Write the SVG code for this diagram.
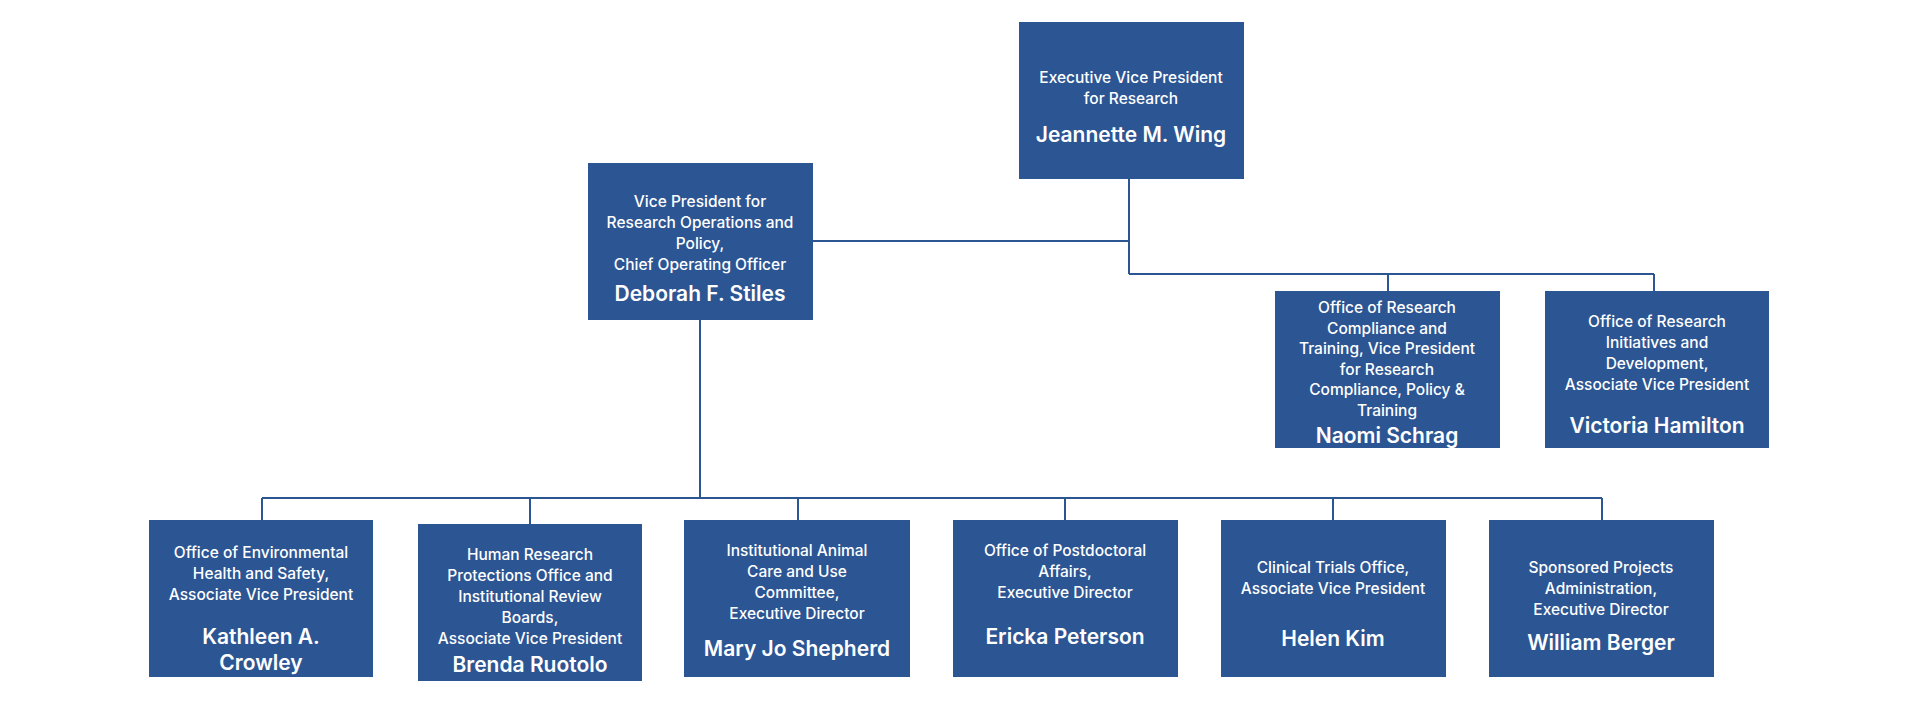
<svg xmlns="http://www.w3.org/2000/svg" width="1920" height="701" viewBox="0 0 1920 701">
<style>
.b{fill:#2c5593}
.c{stroke:#2c5593;stroke-width:2;fill:none}
text{fill:#fff;font-family:Inter,"Open Sans","Liberation Sans",sans-serif;text-anchor:middle}
.t{font-size:15.5px;font-weight:500}
.n{font-size:21px;font-weight:600}
</style>
<rect width="1920" height="701" fill="#fff"/>
<g id="connectors" class="c">
<path d="M1129 179V274M813 241H1129M1129 274H1654M1388 274V291M1654 274V291"/>
<path d="M700 320V498M262 498H1602M262 498V520M530 498V524M798 498V520M1065 498V520M1333 498V520M1602 498V520"/>
</g>
<g id="evp"><rect class="b" x="1019" y="22" width="225" height="157"/>
<text class="t" x="1131" y="83">Executive Vice President</text><text class="t" x="1131" y="104">for Research</text><text class="n" x="1131" y="142">Jeannette M. Wing</text></g>
<g id="vp"><rect class="b" x="588" y="163" width="225" height="157"/>
<text class="t" x="700" y="207">Vice President for</text><text class="t" x="700" y="228">Research Operations and</text><text class="t" x="700" y="249">Policy,</text><text class="t" x="700" y="270">Chief Operating Officer</text><text class="n" x="700" y="301">Deborah F. Stiles</text></g>
<g id="orct"><rect class="b" x="1275" y="291" width="225" height="157"/>
<text class="t" x="1387" y="313">Office of Research</text><text class="t" x="1387" y="333.5">Compliance and</text><text class="t" x="1387" y="354">Training, Vice President</text><text class="t" x="1387" y="374.5">for Research</text><text class="t" x="1387" y="395">Compliance, Policy &amp;</text><text class="t" x="1387" y="415.5">Training</text><text class="n" x="1387" y="443">Naomi Schrag</text></g>
<g id="orid"><rect class="b" x="1545" y="291" width="224" height="157"/>
<text class="t" x="1657" y="327">Office of Research</text><text class="t" x="1657" y="348">Initiatives and</text><text class="t" x="1657" y="369">Development,</text><text class="t" x="1657" y="390">Associate Vice President</text><text class="n" x="1657" y="433">Victoria Hamilton</text></g>
<g id="ehs"><rect class="b" x="149" y="520" width="224" height="157"/>
<text class="t" x="261" y="558">Office of Environmental</text><text class="t" x="261" y="579">Health and Safety,</text><text class="t" x="261" y="600">Associate Vice President</text><text class="n" x="261" y="644">Kathleen A.</text><text class="n" x="261" y="670">Crowley</text></g>
<g id="hrpo"><rect class="b" x="418" y="524" width="224" height="157"/>
<text class="t" x="530" y="560">Human Research</text><text class="t" x="530" y="581">Protections Office and</text><text class="t" x="530" y="602">Institutional Review</text><text class="t" x="530" y="623">Boards,</text><text class="t" x="530" y="644">Associate Vice President</text><text class="n" x="530" y="672">Brenda Ruotolo</text></g>
<g id="iacuc"><rect class="b" x="684" y="520" width="226" height="157"/>
<text class="t" x="797" y="556">Institutional Animal</text><text class="t" x="797" y="577">Care and Use</text><text class="t" x="797" y="598">Committee,</text><text class="t" x="797" y="619">Executive Director</text><text class="n" x="797" y="656">Mary Jo Shepherd</text></g>
<g id="opa"><rect class="b" x="953" y="520" width="225" height="157"/>
<text class="t" x="1065" y="556">Office of Postdoctoral</text><text class="t" x="1065" y="577">Affairs,</text><text class="t" x="1065" y="598">Executive Director</text><text class="n" x="1065" y="644">Ericka Peterson</text></g>
<g id="cto"><rect class="b" x="1221" y="520" width="225" height="157"/>
<text class="t" x="1333" y="573">Clinical Trials Office,</text><text class="t" x="1333" y="594">Associate Vice President</text><text class="n" x="1333" y="646">Helen Kim</text></g>
<g id="spa"><rect class="b" x="1489" y="520" width="225" height="157"/>
<text class="t" x="1601" y="573">Sponsored Projects</text><text class="t" x="1601" y="594">Administration,</text><text class="t" x="1601" y="615">Executive Director</text><text class="n" x="1601" y="650">William Berger</text></g>
</svg>
